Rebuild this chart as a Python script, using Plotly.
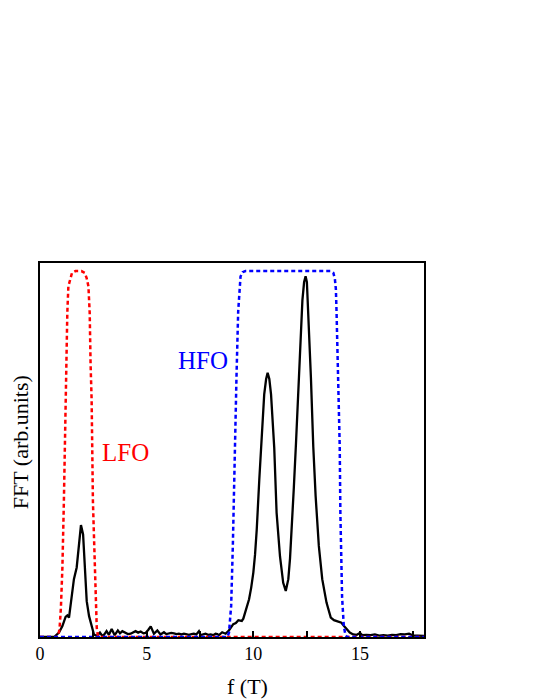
import plotly.graph_objects as go

# FFT amplitude (black curve)
freq = [0.0, 0.5, 0.66, 0.89, 1.05, 1.20, 1.28, 1.36, 1.47, 1.59, 1.72, 1.83, 1.92,
        2.02, 2.11, 2.19, 2.30, 2.41, 2.53, 2.66, 2.81, 2.92, 3.0, 3.12, 3.23, 3.36,
        3.5, 3.65, 3.75, 3.86, 4.01, 4.12, 4.25, 4.38, 4.48, 4.6, 4.72, 4.85, 4.95,
        5.08, 5.19, 5.34, 5.5, 5.65, 5.81, 5.92, 6.04, 6.15, 6.28, 6.4, 6.51, 6.63,
        6.75, 6.86, 6.98, 7.1, 7.21, 7.33, 7.45, 7.53, 7.61, 7.76, 7.88, 8.0, 8.12,
        8.23, 8.31, 8.39, 8.54, 8.62, 8.70, 8.83, 8.96, 9.06, 9.18, 9.30, 9.38, 9.46,
        9.53, 9.61, 9.70, 9.80, 9.90, 10.0, 10.08, 10.16, 10.28, 10.36, 10.51, 10.60,
        10.67, 10.75, 10.83, 10.98, 11.09, 11.25, 11.40, 11.52, 11.64, 11.72, 11.80,
        11.90, 12.0, 12.1, 12.2, 12.3, 12.38, 12.45, 12.51, 12.57, 12.70, 12.81,
        12.92, 13.07, 13.23, 13.43, 13.63, 13.78, 13.90, 14.02, 14.13, 14.25, 14.37,
        14.52, 14.68, 14.85, 15.0, 15.1, 15.3, 15.5, 15.7, 15.9, 16.1, 16.3, 16.5,
        16.7, 16.9, 17.1, 17.3, 17.5, 17.7, 18.0]
amp = [0.0, 0.0, 0.0, 0.012, 0.03, 0.055, 0.059, 0.053, 0.107, 0.158, 0.19, 0.262, 0.306,
       0.28, 0.19, 0.098, 0.057, 0.035, 0.007, 0.003, 0.012, 0.003, 0.006, 0.016, 0.006, 0.022,
       0.005, 0.018, 0.01, 0.016, 0.011, 0.008, 0.009, 0.014, 0.016, 0.012, 0.015, 0.01, 0.011,
       0.02, 0.029, 0.009, 0.018, 0.007, 0.013, 0.008, 0.009, 0.011, 0.01, 0.008, 0.009, 0.007,
       0.009, 0.008, 0.006, 0.008, 0.009, 0.007, 0.016, 0.005, 0.006, 0.009, 0.006, 0.007, 0.005,
       0.009, 0.008, 0.005, 0.013, 0.01, 0.009, 0.016, 0.028, 0.035, 0.038, 0.046, 0.045, 0.044,
       0.05, 0.066, 0.08, 0.103, 0.135, 0.176, 0.225, 0.294, 0.431, 0.517, 0.663, 0.705,
       0.722, 0.705, 0.663, 0.517, 0.34, 0.22, 0.148, 0.126, 0.158, 0.215, 0.294,
       0.41, 0.53, 0.67, 0.81, 0.92, 0.97, 0.986, 0.97, 0.89, 0.708, 0.52,
       0.385, 0.249, 0.158, 0.094, 0.053, 0.046, 0.044, 0.042, 0.039, 0.03, 0.021,
       0.012, 0.007, 0.006, 0.011, 0.005, 0.006, 0.005, 0.007, 0.004, 0.005, 0.004, 0.006,
       0.005, 0.008, 0.007, 0.009, 0.004, 0.004, 0.003]

# low-frequency filter window (red dashed)
lfo_f = [0.0, 0.7, 0.81, 0.86, 0.92, 0.98, 1.05, 1.12, 1.19, 1.24, 1.28, 1.33, 1.41,
         1.5, 1.67, 1.94, 2.1, 2.19, 2.27, 2.33, 2.37, 2.42, 2.48, 2.56, 2.62, 2.66,
         2.71, 2.76, 3.0, 18.0]
lfo_w = [0.0, 0.0, 0.0, 0.005, 0.025, 0.08, 0.19, 0.372, 0.648, 0.749, 0.885, 0.958, 0.98,
         0.995, 1.0, 1.0, 0.995, 0.98, 0.958, 0.885, 0.749, 0.648, 0.372, 0.19, 0.08, 0.025,
         0.005, 0.0, 0.0, 0.0]

# high-frequency filter window (blue dashed)
hfo_f = [0.0, 8.6, 8.78, 8.86, 8.96, 9.04, 9.10, 9.14, 9.21, 9.29, 9.35, 9.40, 9.5,
         9.63, 13.62, 13.75, 13.82, 13.87, 13.9, 13.98, 14.05, 14.08, 14.16, 14.24,
         14.32, 14.4, 18.0]
hfo_w = [0.0, 0.0, 0.0, 0.012, 0.085, 0.25, 0.43, 0.52, 0.71, 0.89, 0.96, 0.985, 0.997,
         1.0, 1.0, 0.995, 0.98, 0.95, 0.89, 0.71, 0.52, 0.34, 0.11, 0.03,
         0.005, 0.0, 0.0]

tick_vals = [0, 2.5, 5, 7.5, 10, 12.5, 15, 17.5]
tick_text = ["0", "", "5", "", "10", "", "15", ""]

FONT = "Liberation Serif, Times New Roman, serif"

fig = go.Figure()
fig.add_trace(go.Scatter(x=freq, y=amp, mode="lines",
                         line=dict(color="black", width=2.3), showlegend=False))
fig.add_trace(go.Scatter(x=lfo_f, y=lfo_w, mode="lines",
                         line=dict(color="#ff0000", width=2.5, dash="4px,3px"), showlegend=False))
fig.add_trace(go.Scatter(x=hfo_f, y=hfo_w, mode="lines",
                         line=dict(color="#0000ff", width=2.5, dash="4px,3px"), showlegend=False))

fig.add_annotation(x=2.83, y=0.505, text="LFO", showarrow=False, xanchor="left",
                   yanchor="middle", font=dict(family=FONT, size=25, color="#ff0000"))
fig.add_annotation(x=6.39, y=0.755, text="HFO", showarrow=False, xanchor="left",
                   yanchor="middle", font=dict(family=FONT, size=25, color="#0000ff"))

# axis titles placed as annotations to match their off-centre positions
fig.add_annotation(xref="paper", yref="paper", x=0.540, y=-0.132, text="f (T)",
                   showarrow=False, xanchor="center", yanchor="middle",
                   font=dict(family=FONT, size=22, color="black"))
fig.add_annotation(xref="paper", yref="paper", x=-0.051, y=0.522, text="FFT (arb.units)",
                   showarrow=False, textangle=-90, xanchor="center", yanchor="middle",
                   font=dict(family=FONT, size=22, color="black"))

fig.update_xaxes(range=[0, 18], tickvals=tick_vals, ticktext=tick_text,
                 ticks="inside", ticklen=6, tickwidth=1.5, tickcolor="black",
                 showline=True, linecolor="black", linewidth=1.6, mirror=True,
                 showgrid=False, zeroline=False,
                 tickfont=dict(family=FONT, size=18, color="black"))
fig.update_yaxes(range=[0, 1.022], showticklabels=False, ticks="",
                 showline=True, linecolor="black", linewidth=1.6, mirror=True,
                 showgrid=False, zeroline=False)

fig.update_layout(width=540, height=699, template="plotly_white",
                  plot_bgcolor="white", paper_bgcolor="white",
                  margin=dict(l=32, r=124, t=255, b=69.5))

fig.write_html("out.html")
